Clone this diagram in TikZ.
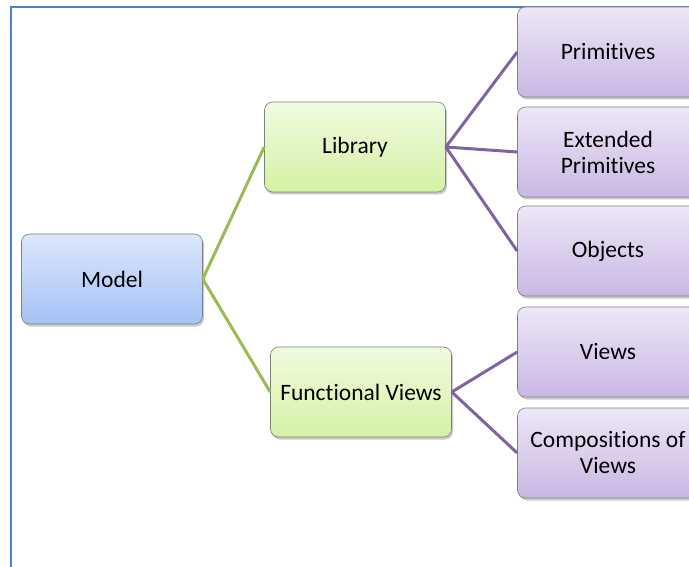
\documentclass[tikz,border=0pt]{standalone}
\usepackage{fontspec}
\setmainfont[Ligatures={NoCommon}]{Carlito}
\usetikzlibrary{shadows}

\definecolor{frameblue}{HTML}{4F81BD}
\definecolor{linkgreen}{HTML}{9BBB59}
\definecolor{linkpurple}{HTML}{8064A2}
\definecolor{boxedge}{HTML}{7F7F7F}
\definecolor{bluetop}{HTML}{DCE6FB}
\definecolor{bluebot}{HTML}{A4C2F7}
\definecolor{greentop}{HTML}{F0FBE0}
\definecolor{greenbot}{HTML}{D4F2A4}
\definecolor{purpletop}{HTML}{EDE7F6}
\definecolor{purplebot}{HTML}{C9B7E4}

\begin{document}
\begin{tikzpicture}[x=1pt, y=-1pt,
    box/.style={rectangle, rounded corners=8pt, draw=boxedge, line width=0.6pt,
        minimum width=181pt, minimum height=90pt, align=center, inner sep=2pt,
        font=\fontsize{23.5}{26}\selectfont,
        drop shadow={shadow xshift=1.5pt, shadow yshift=-2.5pt, opacity=0.35, fill=black!60}},
    rootbox/.style={box, top color=bluetop, bottom color=bluebot},
    midbox/.style={box, top color=greentop, bottom color=greenbot},
    leafbox/.style={box, top color=purpletop, bottom color=purplebot},
    greenlink/.style={draw=linkgreen, line width=3pt},
    purplelink/.style={draw=linkpurple, line width=3pt}]
    \useasboundingbox (0,0) rectangle (689,567);
    \clip (0,0) rectangle (689,567);

    % frame
    \draw[frameblue, line width=2pt] (11,568) -- (11,7) -- (690,7);

    \node[rootbox] (model) at (112,279) {Model};
    \node[midbox] (library) at (355,147) {Library};
    \node[midbox] (views) at (361,392) {Functional Views};
    \node[leafbox] (prim) at (608,52) {Primitives};
    \node[leafbox] (extprim) at (608,152) {Extended\\Primitives};
    \node[leafbox] (objects) at (608,251) {Objects};
    \node[leafbox] (fviews) at (608,352) {Views};
    \node[leafbox] (comp) at (608,453) {Compositions of\\Views};

    \draw[greenlink] (model.east) -- (library.west);
    \draw[greenlink] (model.east) -- (views.west);
    \draw[purplelink] (library.east) -- (prim.west);
    \draw[purplelink] (library.east) -- (extprim.west);
    \draw[purplelink] (library.east) -- (objects.west);
    \draw[purplelink] (views.east) -- (fviews.west);
    \draw[purplelink] (views.east) -- (comp.west);
\end{tikzpicture}
\end{document}
